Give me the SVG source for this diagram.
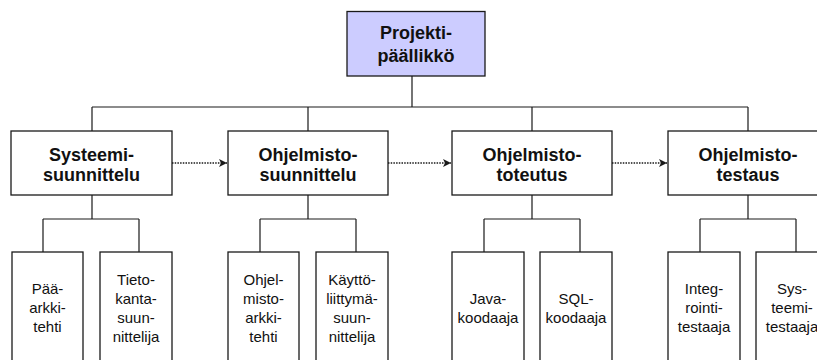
<svg xmlns="http://www.w3.org/2000/svg" width="817" height="360" viewBox="0 0 817 360">
  <style>
    .box { fill: #ffffff; stroke: #1a1a1a; stroke-width: 1.3; }
    .top { fill: #ccccff; }
    .line { fill: none; stroke: #1a1a1a; stroke-width: 1.2; }
    .flow { fill: none; stroke: #1a1a1a; stroke-width: 1.5; stroke-dasharray: 1.5 1.2; }
    .head { font-family: "Liberation Sans", Arial, sans-serif; font-weight: bold; font-size: 18px; fill: #111; text-anchor: middle; }
    .role { font-family: "Liberation Sans", Arial, sans-serif; font-size: 15px; fill: #111; text-anchor: middle; }
  </style>
  <defs>
    <marker id="arrow" markerWidth="8" markerHeight="8" refX="8" refY="4" orient="auto" markerUnits="userSpaceOnUse">
      <path d="M0,0 L8,4 L0,8 L2,4 z" fill="#1a1a1a"/>
    </marker>
  </defs>
  <rect width="817" height="360" fill="#ffffff"/>

  <!-- connectors -->
  <g id="connectors">
    <!-- manager to phases -->
    <path class="line" d="M412,76 V107 M92,107 H748 M92,107 V131 M308,107 V131 M532,107 V131 M748,107 V131"/>
    <!-- phases to roles -->
    <path class="line" d="M92,195 V219 M43,219 H139 M43,219 V252 M139,219 V252"/>
    <path class="line" d="M308,195 V219 M260,219 H356 M260,219 V252 M356,219 V252"/>
    <path class="line" d="M532,195 V219 M484,219 H580 M484,219 V252 M580,219 V252"/>
    <path class="line" d="M748,195 V219 M700,219 H796 M700,219 V252 M796,219 V252"/>
    <!-- phase sequence -->
    <path class="flow" d="M172,163 H227" marker-end="url(#arrow)"/>
    <path class="flow" d="M388,163 H451" marker-end="url(#arrow)"/>
    <path class="flow" d="M612,163 H667" marker-end="url(#arrow)"/>
  </g>

  <g id="projektipaallikko">
    <rect class="box top" x="347" y="11.5" width="138" height="64.5"/>
    <text class="head" x="416" y="39">Projekti-</text>
    <text class="head" x="416" y="61.5">päällikkö</text>
  </g>

  <g id="systeemisuunnittelu">
    <rect class="box" x="11" y="131" width="161" height="64"/>
    <text class="head" x="91.5" y="160.5">Systeemi-</text>
    <text class="head" x="91.5" y="181">suunnittelu</text>
  </g>
  <g id="ohjelmistosuunnittelu">
    <rect class="box" x="228" y="131" width="160" height="64"/>
    <text class="head" x="308" y="160.5">Ohjelmisto-</text>
    <text class="head" x="308" y="181">suunnittelu</text>
  </g>
  <g id="ohjelmistototeutus">
    <rect class="box" x="452" y="131" width="160" height="64"/>
    <text class="head" x="532" y="160.5">Ohjelmisto-</text>
    <text class="head" x="532" y="181">toteutus</text>
  </g>
  <g id="ohjelmistotestaus">
    <rect class="box" x="668" y="131" width="160" height="64"/>
    <text class="head" x="748" y="160.5">Ohjelmisto-</text>
    <text class="head" x="748" y="181">testaus</text>
  </g>

  <g id="paaarkkitehti">
    <rect class="box" x="12" y="252" width="71" height="120"/>
    <text class="role" x="47.5" y="293.5">Pää-</text>
    <text class="role" x="47.5" y="312.5">arkki-</text>
    <text class="role" x="47.5" y="331.5">tehti</text>
  </g>
  <g id="tietokantasuunnittelija">
    <rect class="box" x="100" y="252" width="72" height="120"/>
    <text class="role" x="136" y="285">Tieto-</text>
    <text class="role" x="136" y="304">kanta-</text>
    <text class="role" x="136" y="323">suun-</text>
    <text class="role" x="136" y="342">nittelija</text>
  </g>
  <g id="ohjelmistoarkkitehti">
    <rect class="box" x="228" y="252" width="71" height="120"/>
    <text class="role" x="263.5" y="285">Ohjel-</text>
    <text class="role" x="263.5" y="304">misto-</text>
    <text class="role" x="263.5" y="323">arkki-</text>
    <text class="role" x="263.5" y="342">tehti</text>
  </g>
  <g id="kayttoliittymasuunnittelija">
    <rect class="box" x="316" y="252" width="72" height="120"/>
    <text class="role" x="352" y="285">Käyttö-</text>
    <text class="role" x="352" y="304">liittymä-</text>
    <text class="role" x="352" y="323">suun-</text>
    <text class="role" x="352" y="342">nittelija</text>
  </g>
  <g id="javakoodaaja">
    <rect class="box" x="452" y="252" width="72" height="120"/>
    <text class="role" x="488" y="304">Java-</text>
    <text class="role" x="488" y="323">koodaaja</text>
  </g>
  <g id="sqlkoodaaja">
    <rect class="box" x="540" y="252" width="72" height="120"/>
    <text class="role" x="576" y="304">SQL-</text>
    <text class="role" x="576" y="323">koodaaja</text>
  </g>
  <g id="integrointitestaaja">
    <rect class="box" x="668" y="252" width="72" height="120"/>
    <text class="role" x="704" y="293.5">Integ-</text>
    <text class="role" x="704" y="312.5">rointi-</text>
    <text class="role" x="704" y="331.5">testaaja</text>
  </g>
  <g id="systeemitestaaja">
    <rect class="box" x="756" y="252" width="72" height="120"/>
    <text class="role" x="792" y="293.5">Sys-</text>
    <text class="role" x="792" y="312.5">teemi-</text>
    <text class="role" x="792" y="331.5">testaaja</text>
  </g>
</svg>
